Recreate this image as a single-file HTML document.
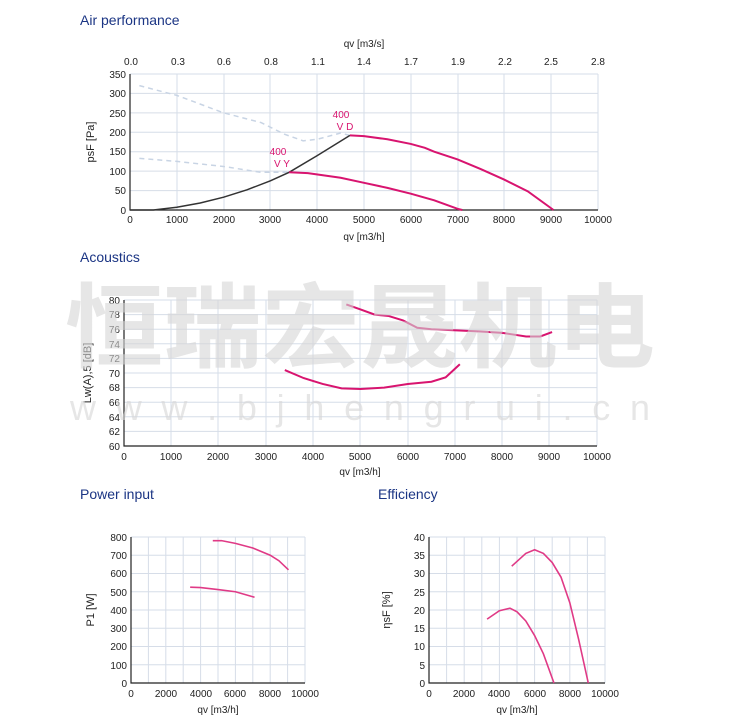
<!DOCTYPE html>
<html><head><meta charset="utf-8"><style>
body{margin:0;background:#fff;width:750px;height:726px;overflow:hidden;position:relative;font-family:"Liberation Sans",sans-serif}
svg{position:absolute;left:0;top:0}
.t{font-size:10px;fill:#222}
.h{font-size:14px;fill:#1b3584}
.g{stroke:#d6dde8;stroke-width:1;fill:none}
.ax{stroke:#222;stroke-width:1.2;fill:none}
</style></head><body>
<svg width="750" height="726" viewBox="0 0 750 726" font-family="Liberation Sans, sans-serif">
<text x="80" y="25" class="h">Air performance</text>
<text x="80" y="262" class="h">Acoustics</text>
<text x="80" y="499" class="h">Power input</text>
<text x="378" y="499" class="h">Efficiency</text>

<!-- Chart 1 -->
<g class="g">
<path d="M177 74V210M224 74V210M270 74V210M317 74V210M364 74V210M411 74V210M458 74V210M504 74V210M551 74V210M598 74V210"/>
<path d="M130 74H598M130 93.4H598M130 112.9H598M130 132.3H598M130 151.7H598M130 171.1H598M130 190.6H598"/>
</g>
<path class="ax" d="M130 74V210H598"/>
<g class="t" text-anchor="end">
<text x="126" y="78">350</text><text x="126" y="97">300</text><text x="126" y="117">250</text><text x="126" y="136">200</text><text x="126" y="155">150</text><text x="126" y="175">100</text><text x="126" y="194">50</text><text x="126" y="214">0</text>
</g>
<g class="t" text-anchor="middle">
<text x="130" y="223">0</text><text x="177" y="223">1000</text><text x="224" y="223">2000</text><text x="270" y="223">3000</text><text x="317" y="223">4000</text><text x="364" y="223">5000</text><text x="411" y="223">6000</text><text x="458" y="223">7000</text><text x="504" y="223">8000</text><text x="551" y="223">9000</text><text x="598" y="223">10000</text>
<text x="364" y="240">qv [m3/h]</text>
<text x="364" y="47">qv [m3/s]</text>
<text x="131" y="65">0.0</text><text x="178" y="65">0.3</text><text x="224" y="65">0.6</text><text x="271" y="65">0.8</text><text x="318" y="65">1.1</text><text x="364" y="65">1.4</text><text x="411" y="65">1.7</text><text x="458" y="65">1.9</text><text x="505" y="65">2.2</text><text x="551" y="65">2.5</text><text x="598" y="65">2.8</text>
</g>
<text class="t" transform="translate(94,142) rotate(-90)" text-anchor="middle" style="font-size:11px">psF [Pa]</text>
<g transform="translate(130,210) scale(0.0468,-0.3886)" fill="none">
<polyline vector-effect="non-scaling-stroke" stroke="#c8d4e4" stroke-width="1.5" stroke-dasharray="5,4" points="200,320 1000,295 2000,250 2800,225 3300,195 3700,178 4000,182 4500,198 4700,192"/>
<polyline vector-effect="non-scaling-stroke" stroke="#c8d4e4" stroke-width="1.5" stroke-dasharray="5,4" points="200,133 1000,125 2000,112 2800,97 3100,97 3400,97"/>
<polyline vector-effect="non-scaling-stroke" stroke="#333" stroke-width="1.5" points="0,0 500,0 1000,7 1500,18 2000,33 2500,52 3000,75 3400,97 4000,140 4700,192"/>
<polyline vector-effect="non-scaling-stroke" stroke="#d8146f" stroke-width="2" points="4700,192 5000,190 5500,182 6000,170 6300,160 6500,150 7000,130 7500,105 8000,78 8500,48 9050,0"/>
<polyline vector-effect="non-scaling-stroke" stroke="#d8146f" stroke-width="2" points="3400,97 3800,95 4500,83 5000,70 5500,57 6000,42 6500,25 7000,3 7100,0"/>
</g>
<g fill="#d8146f" font-size="10px" text-anchor="middle">
<text x="341" y="118">400</text><text x="345" y="130">V D</text>
<text x="278" y="155">400</text><text x="282" y="167">V Y</text>
</g>

<!-- Chart 2 -->
<g class="g">
<path d="M171 300V446M218 300V446M266 300V446M313 300V446M360 300V446M408 300V446M455 300V446M502 300V446M549 300V446M597 300V446"/>
<path d="M124 300H597M124 314.6H597M124 329.2H597M124 343.8H597M124 358.4H597M124 373H597M124 387.6H597M124 402.2H597M124 416.8H597M124 431.4H597"/>
</g>
<path class="ax" d="M124 300V446H597"/>
<g class="t" text-anchor="end">
<text x="120" y="304">80</text><text x="120" y="318">78</text><text x="120" y="333">76</text><text x="120" y="348">74</text><text x="120" y="362">72</text><text x="120" y="377">70</text><text x="120" y="391">68</text><text x="120" y="406">66</text><text x="120" y="421">64</text><text x="120" y="435">62</text><text x="120" y="450">60</text>
</g>
<g class="t" text-anchor="middle">
<text x="124" y="460">0</text><text x="171" y="460">1000</text><text x="218" y="460">2000</text><text x="266" y="460">3000</text><text x="313" y="460">4000</text><text x="360" y="460">5000</text><text x="408" y="460">6000</text><text x="455" y="460">7000</text><text x="502" y="460">8000</text><text x="549" y="460">9000</text><text x="597" y="460">10000</text>
<text x="360" y="475">qv [m3/h]</text>
</g>
<text class="t" transform="translate(91,373) rotate(-90)" text-anchor="middle" style="font-size:11px">Lw(A),5 [dB]</text>
<g transform="translate(124,884) scale(0.0473,-7.3)" fill="none" stroke="#d8146f" stroke-width="2">
<polyline vector-effect="non-scaling-stroke" points="4700,79.4 5000,78.7 5300,78 5600,77.8 5900,77.2 6200,76.2 6500,76 7500,75.7 8000,75.5 8200,75.3 8500,75 8800,75 9050,75.6"/>
<polyline vector-effect="non-scaling-stroke" points="3400,70.4 3800,69.3 4200,68.5 4600,67.9 5000,67.8 5500,68 6000,68.5 6500,68.8 6800,69.4 7100,71.2"/>
</g>

<!-- Power -->
<g class="g">
<path d="M148.4 537V683M165.8 537V683M183.2 537V683M200.6 537V683M218 537V683M235.4 537V683M252.8 537V683M270.2 537V683M287.6 537V683M305 537V683"/>
<path d="M131 537H305M131 555.3H305M131 573.5H305M131 591.8H305M131 610H305M131 628.3H305M131 646.5H305M131 664.8H305"/>
</g>
<path class="ax" d="M131 537V683H305"/>
<g class="t" text-anchor="end">
<text x="127" y="541">800</text><text x="127" y="559">700</text><text x="127" y="577">600</text><text x="127" y="596">500</text><text x="127" y="614">400</text><text x="127" y="632">300</text><text x="127" y="650">200</text><text x="127" y="669">100</text><text x="127" y="687">0</text>
</g>
<g class="t" text-anchor="middle">
<text x="131" y="697">0</text><text x="166" y="697">2000</text><text x="201" y="697">4000</text><text x="235" y="697">6000</text><text x="270" y="697">8000</text><text x="305" y="697">10000</text>
<text x="218" y="713">qv [m3/h]</text>
</g>
<text class="t" transform="translate(94,610) rotate(-90)" text-anchor="middle" style="font-size:11px">P1 [W]</text>
<g transform="translate(131,683) scale(0.0174,-0.1825)" fill="none" stroke="#e03a86" stroke-width="1.6">
<polyline vector-effect="non-scaling-stroke" points="4700,780 5200,780 6000,765 7000,740 8000,700 8500,670 9050,620"/>
<polyline vector-effect="non-scaling-stroke" points="3400,525 4000,523 5000,512 6000,500 7100,470"/>
</g>

<!-- Efficiency -->
<g class="g">
<path d="M446.6 537V683M464.2 537V683M481.8 537V683M499.4 537V683M517 537V683M534.6 537V683M552.2 537V683M569.8 537V683M587.4 537V683M605 537V683"/>
<path d="M429 537H605M429 555.3H605M429 573.5H605M429 591.8H605M429 610H605M429 628.3H605M429 646.5H605M429 664.8H605"/>
</g>
<path class="ax" d="M429 537V683H605"/>
<g class="t" text-anchor="end">
<text x="425" y="541">40</text><text x="425" y="559">35</text><text x="425" y="577">30</text><text x="425" y="596">25</text><text x="425" y="614">20</text><text x="425" y="632">15</text><text x="425" y="650">10</text><text x="425" y="669">5</text><text x="425" y="687">0</text>
</g>
<g class="t" text-anchor="middle">
<text x="429" y="697">0</text><text x="464" y="697">2000</text><text x="499" y="697">4000</text><text x="535" y="697">6000</text><text x="570" y="697">8000</text><text x="605" y="697">10000</text>
<text x="517" y="713">qv [m3/h]</text>
</g>
<text class="t" transform="translate(390,610) rotate(-90)" text-anchor="middle" style="font-size:11px">ηsF [%]</text>
<g transform="translate(429,683) scale(0.0176,-3.65)" fill="none" stroke="#e03a86" stroke-width="1.6">
<polyline vector-effect="non-scaling-stroke" points="4700,32 5500,35.5 6000,36.5 6500,35.5 7000,33 7500,29 8000,22 8500,12 9050,0"/>
<polyline vector-effect="non-scaling-stroke" points="3300,17.5 4000,19.8 4600,20.5 5000,19.5 5500,17 6000,13 6500,8 7100,0"/>
</g>

<!-- Watermark -->
<g opacity="0.6" fill="#d6d6d6">
<text x="360" y="360" text-anchor="middle" font-family="Noto Sans CJK SC, sans-serif" font-weight="bold" font-size="92" textLength="590" lengthAdjust="spacingAndGlyphs">恒瑞宏晟机电</text>
<text x="360" y="420" text-anchor="middle" font-size="36" textLength="580" lengthAdjust="spacing">w w w . b j h e n g r u i . c n</text>
</g>
</svg>
</body></html>
